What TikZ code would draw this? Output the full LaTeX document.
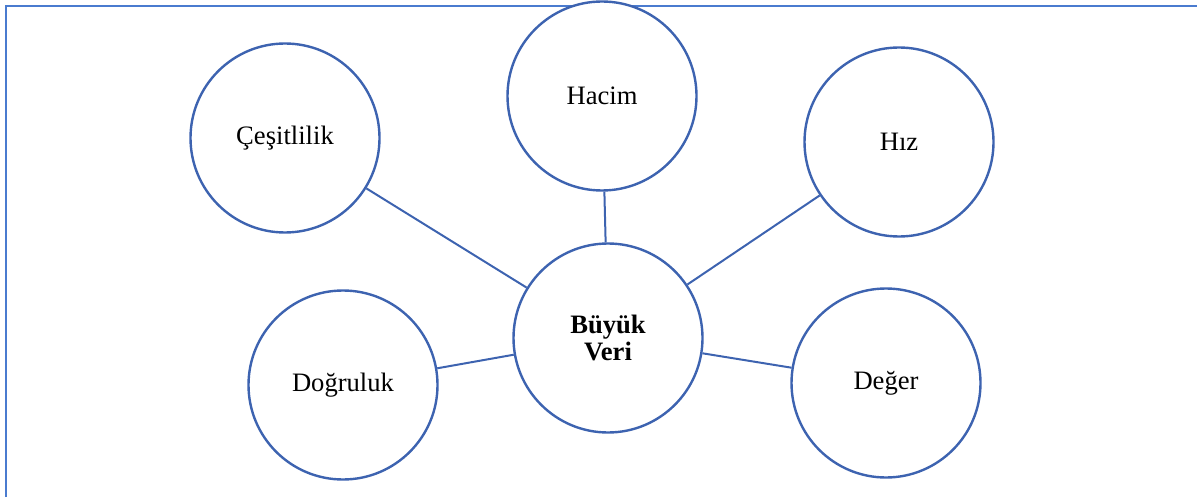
\documentclass[tikz,border=0pt]{standalone}
\usepackage{fontspec}
\setmainfont{Liberation Serif}
\usetikzlibrary{positioning}

\begin{document}
\begin{tikzpicture}[x=0.5pt,y=-0.5pt,
    bubble/.style={circle,draw=bubbleblue,line width=1.2pt,fill=white,minimum size=94.5pt,inner sep=0pt,align=center,font=\fontsize{13.3}{13.6}\selectfont},
    spoke/.style={draw=bubbleblue,line width=1pt}]
  \definecolor{bubbleblue}{RGB}{61,99,176}
  \definecolor{frameblue}{RGB}{74,123,207}
  \useasboundingbox (0,0) rectangle (1197,497);
  \draw[frameblue,line width=1.4pt] (6,497) -- (6,6) -- (1197,6);

  \node[bubble] (veri) at (608,338) {\textbf{Büyük}\\\textbf{Veri}};
  \node[bubble] (hacim) at (602,96) {Hacim};
  \node[bubble] (cesit) at (285,138) {Çeşitlilik};
  \node[bubble] (hiz) at (899,142) {Hız};
  \node[bubble] (dogru) at (343,385) {Doğruluk};
  \node[bubble] (deger) at (886,383) {Değer};

  \path[spoke]
    (veri) edge (hacim)
           edge (cesit)
           edge (hiz)
           edge (dogru)
           edge (deger);
\end{tikzpicture}
\end{document}
